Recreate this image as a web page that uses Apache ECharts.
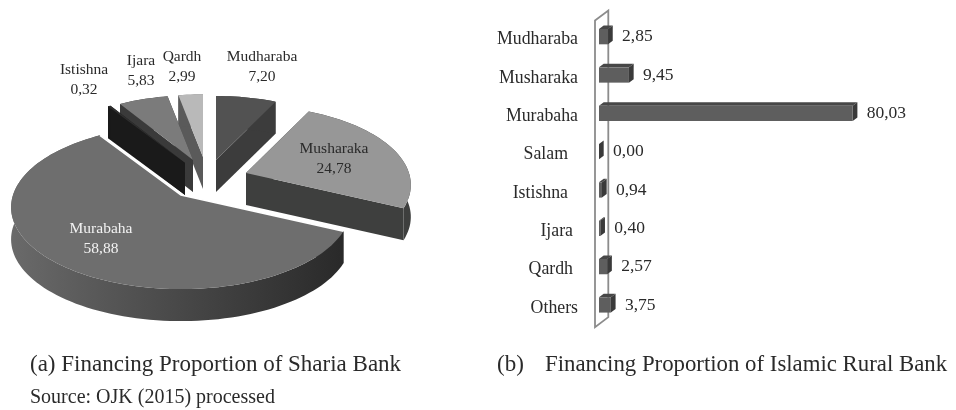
<!DOCTYPE html>
<html>
<head>
<meta charset="utf-8">
<style>html,body{margin:0;padding:0;background:#fff}#chart{width:956px;height:410px}</style>
<script src="https://cdn.jsdelivr.net/npm/echarts@6/dist/echarts.min.js"></script>
</head>
<body>
<div id="chart"></div>
<script>
// (a) sharia bank
const shareNames = ["Mudharaba", "Musharaka", "Murabaha", "Istishna", "Ijara", "Qardh"];
const shareValues = [7.20, 24.78, 58.88, 0.32, 5.83, 2.99];

// (b) islamic rural bank
const ruralNames = ["Mudharaba", "Musharaka", "Murabaha", "Salam", "Istishna", "Ijara", "Qardh", "Others"];
const ruralValues = [2.85, 9.45, 80.03, 0.00, 0.94, 0.40, 2.57, 3.75];

// ---- pie look ----
const FONT = '"Liberation Serif", serif';
const R = 168, H = 80, PERSP = 0.15, DEPTH = 32;
const pieStyle = {
  Mudharaba: { tip: [216, 160], scale: 0.92, top: "#525252", wall: "#3c3c3c", text: [262, 67], color: "#2a2a2a" },
  Musharaka: { tip: [246, 173], scale: 0.97, top: "#979797", wall: "#3e3f3e", text: [334, 159], color: "#2a2a2a" },
  Murabaha: { tip: [181, 195], scale: 1, top: "#6e6e6e", wall: "grad", text: [101, 239], color: "#f2f2f2", edge: true },
  Istishna: { tip: [185, 163], scale: 0.95, top: "#2e2e2e", wall: "#1a1a1a", text: [84, 80], color: "#2a2a2a" },
  Ijara: { tip: [193, 160], scale: 0.93, top: "#7b7b7b", wall: "#3a3a3a", text: [141, 71], color: "#2a2a2a" },
  Qardh: { tip: [203, 157], scale: 0.9, top: "#b9b9b9", wall: "#5a5a5a", text: [182, 67], color: "#2a2a2a" },
};
const drawOrder = ["Mudharaba", "Musharaka", "Qardh", "Ijara", "Istishna", "Murabaha"];

const wallGrad = {
  type: "linear", global: true, x: 10, y: 0, x2: 340, y2: 0,
  colorStops: [
    { offset: 0, color: "#6a6a6a" },
    { offset: 0.45, color: "#4c4c4c" },
    { offset: 1, color: "#2a2a2a" },
  ],
};

function fmt(v) { return v.toFixed(2).replace(".", ","); }

// 圆上一点投影到屏幕，角度从正上方顺时针
function project(s, deg, drop) {
  const a = deg * Math.PI / 180;
  const u = Math.sin(a), v = -Math.cos(a);
  const k = 1 / (1 - PERSP * v);
  return [s.tip[0] + R * s.scale * u * k, s.tip[1] + H * s.scale * v * k + drop];
}

function arcPoints(s, a0, a1, drop) {
  const pts = [];
  const n = Math.max(2, Math.ceil((a1 - a0) / 2));
  for (let i = 0; i <= n; i++) pts.push(project(s, a0 + (a1 - a0) * i / n, drop));
  return pts;
}

function down(p) { return [p[0], p[1] + DEPTH]; }

function renderSlice(params, api) {
  const name = drawOrder[params.dataIndex];
  const idx = shareNames.indexOf(name);
  const s = pieStyle[name];
  const total = shareValues.reduce((a, b) => a + b, 0);
  const a0 = shareValues.slice(0, idx).reduce((a, b) => a + b, 0) / total * 360;
  const a1 = a0 + api.value(0) / total * 360;

  const arc = arcPoints(s, a0, a1, 0);
  const first = arc[0], last = arc[arc.length - 1];
  const wallFill = s.wall === "grad" ? wallGrad : s.wall;
  const wall = (points) => ({ type: "polygon", shape: { points }, style: { fill: wallFill } });

  const children = [
    wall([s.tip, first, down(first), down(s.tip)]),
    wall([s.tip, last, down(last), down(s.tip)]),
    wall(arc.concat(arc.slice().reverse().map(down))),
    { type: "polygon", shape: { points: [s.tip].concat(arc) }, style: { fill: s.top } },
  ];
  if (s.edge) {
    children.push({
      type: "polyline",
      shape: { points: [first, s.tip, last] },
      style: { stroke: "#fff", lineWidth: 1.5, fill: null },
    });
  }
  children.push({
    type: "text",
    x: s.text[0], y: s.text[1],
    z2: 10,
    style: {
      text: name + "\n" + fmt(api.value(0)),
      font: "15.5px " + FONT, lineHeight: 20.5,
      fill: s.color, align: "center", verticalAlign: "middle",
    },
  });
  return { type: "group", children };
}

// ---- bar look ----
const DX = 4.7, DY = 3.5, BAR_H = 15.3;
const labelPad = { Salam: 10, Istishna: 10, Ijara: 5, Qardh: 5 };

function renderBar(params, api) {
  const start = api.coord([0, api.value(1)]);
  const end = api.coord([api.value(0), api.value(1)]);
  const x0 = start[0], x1 = end[0], y0 = start[1] - BAR_H / 2, y1 = start[1] + BAR_H / 2;
  return {
    type: "group",
    children: [
      { type: "polygon", shape: { points: [[x0, y0], [x0 + DX, y0 - DY], [x1 + DX, y0 - DY], [x1, y0]] }, style: { fill: "#474747" } },
      { type: "polygon", shape: { points: [[x1, y0], [x1 + DX, y0 - DY], [x1 + DX, y1 - DY], [x1, y1]] }, style: { fill: "#3a3a3a" } },
      { type: "rect", shape: { x: x0, y: y0, width: x1 - x0, height: y1 - y0 }, style: { fill: "#5e5e5e" } },
      {
        type: "text", x: x1 + 14, y: start[1],
        style: { text: fmt(api.value(0)), font: "17.5px " + FONT, fill: "#2a2a2a", align: "left", verticalAlign: "middle" },
      },
    ],
  };
}

function renderPanel(params) {
  const c = params.coordSys;
  const l = c.x - 4, r = c.x + 9.3, t = c.y - 7, b = c.y + c.height + 3;
  return {
    type: "polygon",
    shape: { points: [[l, t + 10], [r, t], [r, b - 10], [l, b]] },
    style: { fill: null, stroke: "#8c8c8c", lineWidth: 1.8 },
  };
}

const caption = (x, y, text, size) => ({
  type: "text", x, y,
  style: { text, font: size + "px " + FONT, fill: "#2a2a2a", verticalAlign: "middle" },
});

const labelRich = (pad) => ({ fontFamily: FONT, fontSize: 17.8, color: "#2a2a2a", padding: [6, pad, 0, 0] });

const chart = echarts.init(document.getElementById("chart"), null, { renderer: "canvas" });
chart.setOption({
  animation: false,
  backgroundColor: "#fff",
  grid: { left: 599, top: 17.5, width: 317, height: 306.6 },
  xAxis: { type: "value", min: 0, max: 100, show: false },
  yAxis: {
    type: "category",
    inverse: true,
    data: ruralNames,
    axisLine: { show: false },
    axisTick: { show: false },
    splitLine: { show: false },
    axisLabel: {
      margin: 21,
      formatter: (v) => `{p${labelPad[v] || 0}|${v}}`,
      rich: { p0: labelRich(0), p5: labelRich(5), p10: labelRich(10) },
    },
  },
  series: [
    {
      type: "custom",
      coordinateSystem: "none",
      renderItem: renderSlice,
      data: drawOrder.map((n) => [shareValues[shareNames.indexOf(n)]]),
      silent: true,
    },
    {
      type: "custom",
      coordinateSystem: "cartesian2d",
      renderItem: renderPanel,
      data: [[0, 0]],
      silent: true,
    },
    {
      type: "custom",
      coordinateSystem: "cartesian2d",
      renderItem: renderBar,
      encode: { x: 0, y: 1 },
      data: ruralValues.map((v, i) => [v, i]),
      silent: true,
    },
  ],
  graphic: [
    caption(30, 365, "(a) Financing Proportion of Sharia Bank", 23),
    caption(497, 365, "(b)", 23),
    caption(545, 365, "Financing Proportion of Islamic Rural Bank", 22.8),
    caption(30, 398, "Source: OJK (2015) processed", 20),
  ],
});
</script>
</body>
</html>
